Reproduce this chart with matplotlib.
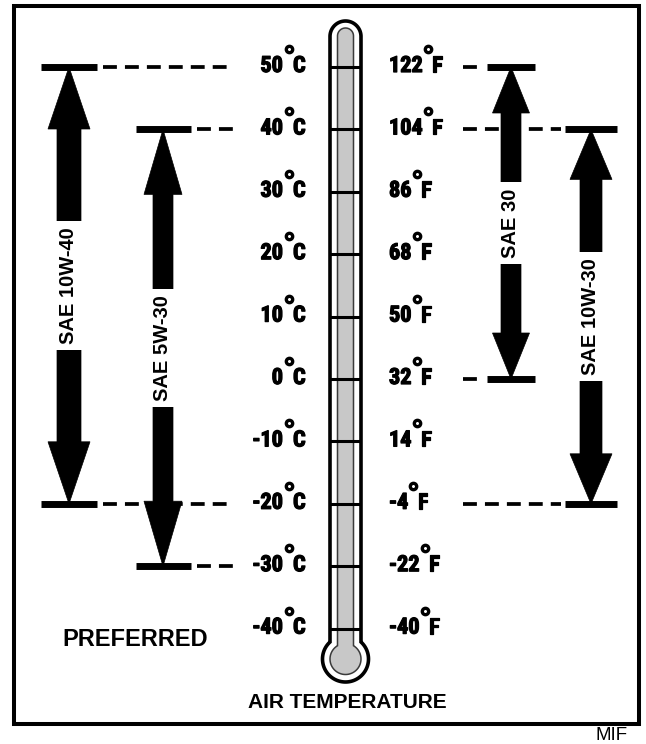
import numpy as np
import matplotlib
matplotlib.use('Agg')
import matplotlib.pyplot as plt
from matplotlib.patches import Polygon, Rectangle
from matplotlib import font_manager as fm
import matplotlib.patheffects as pe

plt.rcParams['lines.scale_dashes'] = False

# ---------------- data ----------------
temps_c = [50, 40, 30, 20, 10, 0, -10, -20, -30, -40]
temps_f = [122, 104, 86, 68, 50, 32, 14, -4, -22, -40]
oils = ['SAE 10W-40', 'SAE 5W-30', 'SAE 30', 'SAE 10W-30']
oil_high_c = [50, 40, 50, 40]
oil_low_c = [-20, -30, 0, -20]
title_text = 'AIR TEMPERATURE'
legend_text = 'PREFERRED'
code_text = 'MIF'

# ---------------- layout / style ----------------
W, H = 646, 744
Y0, PXPD = 379.0, 6.24          # pixel row of 0 °C, pixels per degree
def yd(row):
    return (Y0 - row) / PXPD

arrow_x = [69, 163, 511, 591]
arrow_side = ['L', 'L', 'R', 'R']
shaft_w = [24, 20, 20, 22]
head_w = [42, 38, 37, 42]
head_l = [62, 65, 46, 50]
bar_w = [56, 55, 48, 52]

# pick a condensed bold face if one is installed
def pick_condensed():
    prefs = ['Liberation Sans Narrow', 'Roboto Condensed', 'Open Sans Condensed',
             'DejaVu Sans', 'Noto Sans', 'Open Sans', 'Roboto', 'Inter', 'Lato']
    best = None
    for f in fm.fontManager.ttflist:
        cond = (str(f.stretch) in ('condensed', 'semi-condensed', 'extra-condensed',
                                   'ultra-condensed') or 'Narrow' in f.name
                or 'Condensed' in f.name)
        try:
            w = int(f.weight)
        except Exception:
            w = {'bold': 700, 'heavy': 800, 'black': 900, 'extra bold': 800,
                 'semibold': 600, 'demibold': 600}.get(str(f.weight), 400)
        if cond and w >= 600 and f.style == 'normal':
            rank = prefs.index(f.name) if f.name in prefs else len(prefs)
            key = (rank, -w)
            if best is None or key < best[0]:
                best = (key, f.fname)
    return best[1] if best else None

cfile = pick_condensed()
if cfile:
    num_fp = fm.FontProperties(fname=cfile, size=16)
else:
    num_fp = fm.FontProperties(family='Liberation Sans', weight='bold', size=15,
                               stretch='condensed')
num_fx = [pe.withStroke(linewidth=0.9, foreground='black')]
lab_font = dict(family=['Liberation Sans', 'DejaVu Sans'], fontweight='bold')

fig = plt.figure(figsize=(W / 100, H / 100), dpi=100)
ax = fig.add_axes([0, 0, 1, 1])
ax.set_axis_off()
ax.set_xlim(0, W)
ax.set_ylim(yd(H), yd(0))

# frame
ax.add_patch(Rectangle((13.5, yd(724)), 639 - 13.5, yd(5.5) - yd(724),
                       fill=False, lw=2.9, ec='black', zorder=1))

# ---------------- thermometer ----------------
def therm_path(cx, hw, top_row, bcy, br, n=80):
    tc = top_row + hw
    a = np.linspace(np.pi, 0, n)
    xs = list(cx + hw * np.cos(a))
    rs = list(tc - hw * np.sin(a))
    tj = np.arccos(hw / br)
    b = np.linspace(tj, -np.pi - tj, 2 * n)
    xs += list(cx + br * np.cos(b))
    rs += list(bcy - br * np.sin(b))
    return np.column_stack([xs, [yd(r) for r in rs]])

ax.add_patch(Polygon(therm_path(345.5, 15.5, 21, 659, 23), closed=True,
                     fc='white', ec='black', lw=2.6, zorder=3))
ax.add_patch(Polygon(therm_path(345.5, 8, 28, 659, 15.5), closed=True,
                     fc='#c8c8c8', ec='#3a3a3a', lw=1.1, zorder=4))
ax.hlines(temps_c, 330, 361, colors='black', lw=2.2, zorder=5)

ring = dict(marker='o', ms=4.6, mew=2.4, mec='black', mfc='white', zorder=6)

# left (°C) labels
for t in temps_c:
    ax.text(283, t - 5 / PXPD, str(t), ha='right', va='baseline', zorder=6,
            fontproperties=num_fp, path_effects=num_fx)
    ax.text(293, t - 5 / PXPD, 'C', ha='left', va='baseline', zorder=6,
            fontproperties=num_fp, path_effects=num_fx)
    ax.plot(289, t + 18 / PXPD, **ring)

# right (°F) labels
ftexts = []
for t, f in zip(temps_c, temps_f):
    ftexts.append(ax.text(389, t - 5 / PXPD, str(f), ha='left', va='baseline',
                          zorder=6, fontproperties=num_fp, path_effects=num_fx))
fig.canvas.draw()
rend = fig.canvas.get_renderer()
inv = ax.transData.inverted()
for t, txt in zip(temps_c, ftexts):
    bb = txt.get_window_extent(rend)
    xr = inv.transform((bb.x1, bb.y0))[0]
    ax.plot(xr + 5, t + 18 / PXPD, **ring)
    ax.text(xr + 9, t - 5 / PXPD, 'F', ha='left', va='baseline', zorder=6,
            fontproperties=num_fp, path_effects=num_fx)

# ---------------- oil arrows ----------------
for i, name in enumerate(oils):
    x, hi, lo = arrow_x[i], oil_high_c[i], oil_low_c[i]
    sw, hw, hl, bw = shaft_w[i] / 2, head_w[i] / 2, head_l[i] / PXPD, bar_w[i] / 2
    pts = [(x, hi), (x + hw, hi - hl), (x + sw, hi - hl), (x + sw, lo + hl),
           (x + hw, lo + hl), (x, lo), (x - hw, lo + hl), (x - sw, lo + hl),
           (x - sw, hi - hl), (x - hw, hi - hl)]
    ax.add_patch(Polygon(pts, closed=True, fc='black', ec='black', lw=0.5, zorder=4))
    ax.hlines([hi, lo], x - bw, x + bw, colors='black', lw=5, zorder=4)
    for lvl in (hi, lo):
        if arrow_side[i] == 'L':
            ax.plot([x + bw + 6, 233], [lvl, lvl], color='black', lw=2.7,
                    ls=(0, (10, 5.8)), solid_capstyle='butt', zorder=2)
        else:
            ax.plot([463, x - bw - 4], [lvl, lvl], color='black', lw=2.7,
                    ls=(0, (10, 5.8)), solid_capstyle='butt', zorder=2)
    ax.text(x, (hi + lo) / 2, name, rotation=90, ha='center', va='center',
            fontsize=14.5, zorder=5,
            bbox=dict(boxstyle='square,pad=0.3', fc='white', ec='none'), **lab_font)

# ---------------- texts ----------------
ax.text(135, yd(640), legend_text, ha='center', va='center', fontsize=17, **lab_font)
ax.text(347, yd(702), title_text, ha='center', va='center', fontsize=15, **lab_font)
ax.text(628, yd(735), code_text, ha='right', va='center', fontsize=13.5,
        family=['Liberation Sans', 'DejaVu Sans'])

fig.savefig('out.png', dpi=100)
